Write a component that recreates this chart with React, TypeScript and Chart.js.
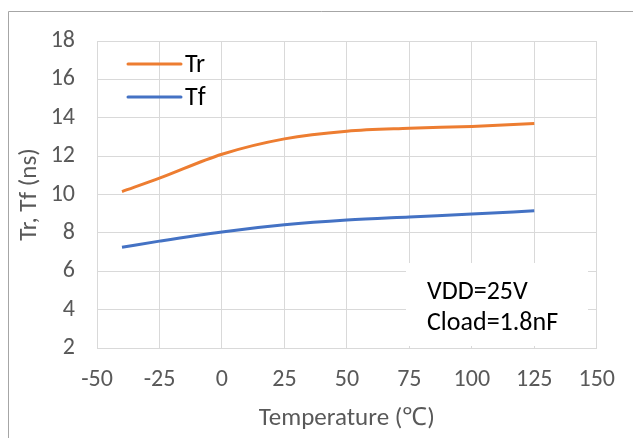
import React, { useEffect, useRef } from "react";
import { Chart, registerables } from "chart.js";

Chart.register(...registerables);

const temperatures = [-40, -25, 0, 25, 50, 75, 100, 125];
const trValues = [10.15, 10.85, 12.1, 12.9, 13.3, 13.45, 13.55, 13.7];
const tfValues = [7.25, 7.57, 8.05, 8.42, 8.67, 8.83, 8.98, 9.15];
const seriesLabels = ["Tr", "Tf"];
const seriesColors = ["#ED7D31", "#4472C4"];
const xTickValues = [-50, -25, 0, 25, 50, 75, 100, 125, 150];
const yTickValues = [2, 4, 6, 8, 10, 12, 14, 16, 18];
const xTitle = "Temperature (℃)";
const yTitle = "Tr, Tf (ns)";
const noteLines = ["VDD=25V", "Cload=1.8nF"];

const FONT = "Carlito, Lato, 'Open Sans', sans-serif";
const W = 633;
const H = 438;

const overlayPlugin = {
  id: "overlay",
  afterDraw(chart: any) {
    const ctx = chart.ctx;
    ctx.save();
    // outer frame
    ctx.strokeStyle = "#a6a6a6";
    ctx.lineWidth = 1;
    ctx.beginPath();
    ctx.moveTo(8.5, H + 5);
    ctx.lineTo(8.5, 11.5);
    ctx.lineTo(W + 5, 11.5);
    ctx.stroke();

    // note box
    ctx.fillStyle = "#ffffff";
    ctx.fillRect(406, 263, 182, 83);
    ctx.fillStyle = "#000000";
    ctx.font = `26px ${FONT}`;
    ctx.textBaseline = "middle";
    ctx.textAlign = "left";
    noteLines.forEach((t, i) => ctx.fillText(t, 427, 292 + i * 31));

    // legend
    chart.data.datasets.forEach((ds: any, i: number) => {
      const y = 64 + i * 33;
      ctx.strokeStyle = ds.borderColor;
      ctx.lineWidth = 3;
      ctx.lineCap = "round";
      ctx.beginPath();
      ctx.moveTo(128, y);
      ctx.lineTo(181, y);
      ctx.stroke();
      ctx.fillStyle = "#000000";
      ctx.font = `26px ${FONT}`;
      ctx.fillText(ds.label, 185, y + 1);
    });
    ctx.restore();
  },
};

export default function App() {
  const ref = useRef<HTMLCanvasElement | null>(null);
  useEffect(() => {
    document.body.style.margin = "0";
    const canvas = ref.current;
    if (!canvas) return;
    const chart = new Chart(canvas, {
      type: "scatter",
      data: {
        datasets: [trValues, tfValues].map((vals, i) => ({
          label: seriesLabels[i],
          data: temperatures.map((t, j) => ({ x: t, y: vals[j] })),
          showLine: true,
          borderColor: seriesColors[i],
          backgroundColor: seriesColors[i],
          borderWidth: 3,
          pointRadius: 0,
          tension: 0.4,
          cubicInterpolationMode: "monotone",
        })),
      },
      options: {
        animation: false,
        responsive: false,
        devicePixelRatio: 1,
        layout: { padding: { left: 0, top: 41, right: 30, bottom: 0 } },
        plugins: { legend: { display: false }, tooltip: { enabled: false } },
        scales: {
          x: {
            type: "linear",
            min: xTickValues[0],
            max: xTickValues[xTickValues.length - 1],
            afterBuildTicks: (s: any) => {
              s.ticks = xTickValues.map((v) => ({ value: v }));
            },
            afterFit: (s: any) => {
              s.height = 90;
            },
            ticks: {
              color: "#595959",
              font: { family: FONT, size: 24 },
              padding: 18,
            },
            grid: { color: "#d9d9d9", lineWidth: 1, drawTicks: false },
            border: { color: "#d9d9d9" },
            title: {
              display: true,
              text: xTitle,
              color: "#595959",
              font: { family: FONT, size: 25 },
              padding: { top: 0, bottom: 4 },
            },
          },
          y: {
            type: "linear",
            min: yTickValues[0],
            max: yTickValues[yTickValues.length - 1],
            afterBuildTicks: (s: any) => {
              s.ticks = yTickValues.map((v) => ({ value: v }));
            },
            afterFit: (s: any) => {
              s.width = 97;
            },
            ticks: {
              color: "#595959",
              font: { family: FONT, size: 24 },
              padding: 22,
            },
            grid: { color: "#d9d9d9", lineWidth: 1, drawTicks: false },
            border: { color: "#d9d9d9" },
            title: {
              display: true,
              text: yTitle,
              color: "#595959",
              font: { family: FONT, size: 25 },
              padding: { top: 15, bottom: 0 },
            },
          },
        },
      },
      plugins: [overlayPlugin],
    } as any);
    return () => chart.destroy();
  }, []);
  return (
    <div style={{ width: W, height: H, background: "#fff" }}>
      <canvas ref={ref} width={W} height={H} style={{ width: W, height: H, display: "block" }} />
    </div>
  );
}
